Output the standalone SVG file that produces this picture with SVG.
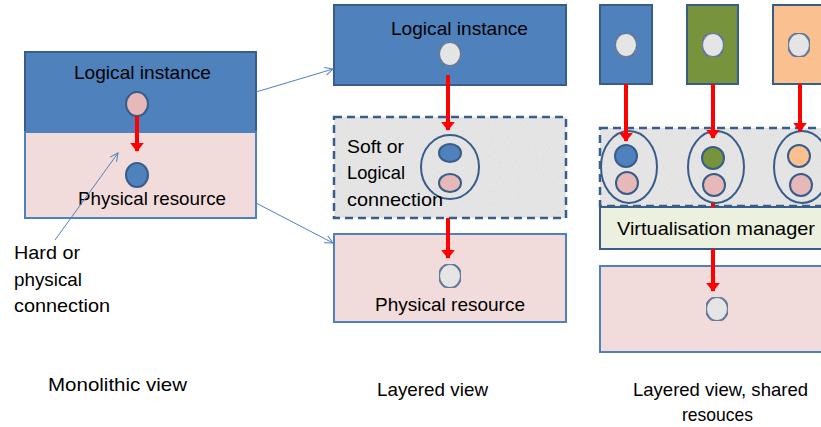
<svg xmlns="http://www.w3.org/2000/svg" width="821" height="427" viewBox="0 0 821 427">
<defs>
  <filter id="grain" x="0" y="0" width="100%" height="100%">
    <feTurbulence type="fractalNoise" baseFrequency="0.9" numOctaves="2" seed="3" result="n"/>
    <feColorMatrix in="n" type="matrix" values="0 0 0 0 0.55  0 0 0 0 0.55  0 0 0 0 0.55  0 0 0 0.4 0" result="g"/>
    <feComposite in="g" in2="SourceGraphic" operator="in" result="gm"/>
    <feMerge><feMergeNode in="SourceGraphic"/><feMergeNode in="gm"/></feMerge>
  </filter>
  <marker id="redhead" markerWidth="4" markerHeight="4" refX="2" refY="2" orient="auto" markerUnits="strokeWidth">
    <path d="M0,0.3 L2.2,2 L0,3.7 Z" fill="#ff0000"/>
  </marker>
  <marker id="thinhead" markerWidth="10" markerHeight="10" refX="9" refY="5" orient="auto" markerUnits="userSpaceOnUse">
    <path d="M1,1 L9,5 L1,9" fill="none" stroke="#4f81bd" stroke-width="1"/>
  </marker>
</defs>
<style>
  text { font-family: "Liberation Sans", Arial, sans-serif; font-size: 19px; fill: #000; }
  .blue { fill: #4f81bd; stroke: #385d8a; stroke-width: 2; }
  .pinkbox { fill: #f2dcdb; stroke: #4f81bd; stroke-width: 2; }
  .greyfill { fill: #ebebeb; }
  .dash { fill: none; stroke: #385d8a; stroke-width: 2.5; stroke-dasharray: 8 5; }
  .dot { fill: #ececec; stroke: #385d8a; stroke-width: 2; }
  .dotblue { fill: #4f81bd; stroke: #385d8a; stroke-width: 2; }
  .dotpink { fill: #e6b9b8; stroke: #385d8a; stroke-width: 2; }
  .dotgreen { fill: #77933c; stroke: #385d8a; stroke-width: 2; }
  .dotorange { fill: #fac090; stroke: #385d8a; stroke-width: 2; }
  .ring { fill: none; stroke: #385d8a; stroke-width: 2; }
  .red { stroke: #ff0000; stroke-width: 4; fill: none; marker-end: url(#redhead); }
  .thin { stroke: #4f81bd; stroke-width: 1; fill: none; marker-end: url(#thinhead); }
</style>

<!-- Monolithic view -->
<g id="mono-logical">
  <rect class="blue" x="25" y="52" width="231" height="80"/>
  <text x="74" y="79" textLength="137" lengthAdjust="spacingAndGlyphs">Logical instance</text>
  <ellipse class="dotpink" cx="137" cy="104" rx="11" ry="12"/>
</g>
<g id="mono-physical">
  <rect class="pinkbox" x="25" y="132" width="231" height="86"/>
  <ellipse class="dotblue" cx="137" cy="175" rx="11" ry="12"/>
  <text x="78" y="205" textLength="148" lengthAdjust="spacingAndGlyphs">Physical resource</text>
</g>
<g id="mono-label">
  <text x="14" y="259" textLength="66" lengthAdjust="spacingAndGlyphs">Hard or</text>
  <text x="14" y="286" textLength="68" lengthAdjust="spacingAndGlyphs">physical</text>
  <text x="14" y="312" textLength="96" lengthAdjust="spacingAndGlyphs">connection</text>
  <text x="48" y="391" textLength="139" lengthAdjust="spacingAndGlyphs">Monolithic view</text>
</g>

<!-- Layered view -->
<g id="layer-logical">
  <rect class="blue" x="334" y="5" width="232" height="80"/>
  <text x="391" y="35" textLength="137" lengthAdjust="spacingAndGlyphs">Logical instance</text>
  <ellipse class="dot" cx="450" cy="54" rx="11" ry="12" filter="url(#grain)"/>
</g>
<g id="layer-soft">
  <rect class="greyfill" x="334" y="117" width="232" height="101" filter="url(#grain)"/>
  <rect class="dash" x="334" y="117" width="232" height="101"/>
  <ellipse class="ring" cx="450" cy="167" rx="29" ry="32"/>
  <ellipse class="dotblue" cx="450" cy="153" rx="11" ry="9"/>
  <ellipse class="dotpink" cx="450" cy="183" rx="11" ry="9"/>
  <text x="347" y="153" textLength="57" lengthAdjust="spacingAndGlyphs">Soft or</text>
  <text x="347" y="179" textLength="58" lengthAdjust="spacingAndGlyphs">Logical</text>
  <text x="347" y="206" textLength="96" lengthAdjust="spacingAndGlyphs">connection</text>
</g>
<g id="layer-physical">
  <rect class="pinkbox" x="334" y="234" width="232" height="88"/>
  <ellipse class="dot" cx="450" cy="276" rx="11" ry="12" filter="url(#grain)"/>
  <text x="375" y="311" textLength="150" lengthAdjust="spacingAndGlyphs">Physical resource</text>
</g>
<g id="layer-label">
  <text x="377" y="396" textLength="111" lengthAdjust="spacingAndGlyphs">Layered view</text>
</g>

<!-- Shared view -->
<g id="shared-blue">
  <rect class="blue" x="600" y="5" width="52" height="79"/>
  <ellipse class="dot" cx="626" cy="45" rx="11" ry="12" filter="url(#grain)"/>
</g>
<g id="shared-green">
  <rect x="687" y="5" width="51" height="79" fill="#77933c" stroke="#385d8a" stroke-width="2"/>
  <ellipse class="dot" cx="713" cy="45" rx="11" ry="12" filter="url(#grain)"/>
</g>
<g id="shared-orange">
  <rect x="773" y="5" width="60" height="79" fill="#fac090" stroke="#385d8a" stroke-width="2"/>
  <ellipse class="dot" cx="799" cy="45" rx="11" ry="12" filter="url(#grain)"/>
</g>
<g id="shared-soft">
  <rect class="greyfill" x="600" y="128" width="235" height="78" filter="url(#grain)"/>
  <rect class="dash" x="600" y="128" width="235" height="78"/>
  <ellipse class="ring" cx="629" cy="167" rx="28" ry="36"/>
  <ellipse class="dotblue" cx="626" cy="156" rx="11" ry="11"/>
  <ellipse class="dotpink" cx="627" cy="183" rx="11" ry="11"/>
  <ellipse class="ring" cx="716" cy="167" rx="28" ry="36"/>
  <ellipse class="dotgreen" cx="713" cy="158" rx="11" ry="11"/>
  <ellipse class="dotpink" cx="714" cy="185" rx="11" ry="11"/>
  <ellipse class="ring" cx="802" cy="167" rx="28" ry="36"/>
  <ellipse class="dotorange" cx="799" cy="156" rx="11" ry="11"/>
  <ellipse class="dotpink" cx="801" cy="185" rx="11" ry="11"/>
</g>
<g id="shared-manager">
  <rect x="600" y="207" width="235" height="42" fill="#ebf1de" stroke="#385d8a" stroke-width="2"/>
  <text x="617" y="235" textLength="198" lengthAdjust="spacingAndGlyphs">Virtualisation manager</text>
</g>
<g id="shared-physical">
  <rect class="pinkbox" x="600" y="266" width="235" height="86"/>
  <ellipse class="dot" cx="717" cy="309" rx="11" ry="12" filter="url(#grain)"/>
</g>
<g id="shared-label">
  <text x="633" y="396" textLength="175" lengthAdjust="spacingAndGlyphs">Layered view, shared</text>
  <text x="682" y="421" textLength="71" lengthAdjust="spacingAndGlyphs">resouces</text>
</g>

<!-- Connectors -->
<g id="connectors">
  <line class="red" x1="137" y1="116" x2="137" y2="151"/>
  <line class="red" x1="448" y1="75" x2="448" y2="130"/>
  <line class="red" x1="448" y1="218" x2="448" y2="258"/>
  <line class="red" x1="626" y1="84" x2="626" y2="141"/>
  <line class="red" x1="713" y1="84" x2="713" y2="138"/>
  <line class="red" x1="800" y1="84" x2="800" y2="131"/>
  <line x1="713" y1="203" x2="713" y2="207" stroke="#ff0000" stroke-width="4"/>
  <line class="red" x1="713" y1="249" x2="713" y2="291"/>
  <line class="thin" x1="55" y1="240" x2="118" y2="153"/>
  <line class="thin" x1="256" y1="92" x2="333" y2="69"/>
  <line class="thin" x1="256" y1="203" x2="333" y2="243"/>
</g>
</svg>
